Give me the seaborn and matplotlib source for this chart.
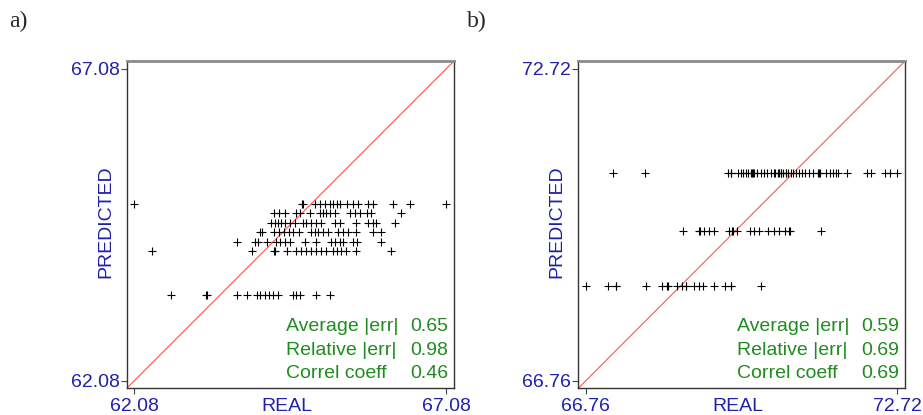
import numpy as np
import pandas as pd
import matplotlib
matplotlib.use("Agg")
import matplotlib.pyplot as plt
import seaborn as sns

# ---- panel a) : predicted levels and the real values found at each level ----
left_pred = [64.91, 64.76, 64.60, 64.46, 64.30, 64.15, 63.46]
left_real = [
    [62.08, 64.77, 64.78, 64.97, 65.05, 65.13, 65.21, 65.26, 65.32, 65.38,
     65.49, 65.58, 65.67, 65.82, 65.90, 66.23, 66.50, 67.08],
    [64.31, 64.39, 64.49, 64.67, 64.73, 64.89, 65.06, 65.11, 65.15, 65.21,
     65.30, 65.54, 65.61, 65.69, 65.80, 65.87, 66.35],
    [64.27, 64.33, 64.38, 64.43, 64.49, 64.57, 64.65, 64.78, 64.83, 64.91,
     64.99, 65.07, 65.29, 65.37, 65.63, 65.82, 65.90, 65.96, 66.26],
    [64.10, 64.12, 64.31, 64.39, 64.47, 64.55, 64.63, 64.72, 64.91, 64.97,
     65.02, 65.10, 65.18, 65.35, 65.42, 65.50, 65.63, 65.90, 66.03],
    [63.72, 64.01, 64.06, 64.20, 64.35, 64.41, 64.49, 64.57, 64.81, 64.99,
     65.23, 65.29, 65.37, 65.43, 65.58, 65.64, 66.04],
    [62.37, 63.96, 64.32, 64.34, 64.53, 64.67, 64.75, 64.83, 64.91, 64.99,
     65.07, 65.15, 65.26, 65.32, 65.39, 65.47, 65.63, 66.20],
    [62.67, 63.23, 63.25, 63.72, 63.89, 64.04, 64.10, 64.17, 64.24, 64.30,
     64.38, 64.62, 64.67, 64.73, 64.99, 65.21],
]
left_range = (62.08, 67.08)
left_stats = [0.65, 0.98, 0.46]

# ---- panel b) ----
right_pred = [70.73, 69.61, 68.56]
right_real = [
    [67.28, 67.89, 69.47, 69.53, 69.54, 69.68, 69.72, 69.77, 69.82, 69.87,
     69.92, 69.93, 69.96, 69.97, 70.04, 70.11, 70.17, 70.23, 70.30, 70.36,
     70.37, 70.44, 70.45, 70.49, 70.50, 70.53, 70.58, 70.59, 70.63, 70.68,
     70.72, 70.78, 70.83, 70.89, 70.95, 71.03, 71.11, 71.21, 71.22, 71.23,
     71.35, 71.43, 71.49, 71.54, 71.59, 71.76, 72.14, 72.21, 72.48, 72.57,
     72.72],
    [68.61, 68.93, 68.94, 69.02, 69.12, 69.21, 69.50, 69.56, 69.57, 69.66,
     69.90, 69.98, 70.07, 70.25, 70.36, 70.46, 70.57, 70.65, 70.66, 71.25],
    [66.76, 67.19, 67.33, 67.34, 67.91, 68.22, 68.32, 68.33, 68.51, 68.60,
     68.67, 68.68, 68.83, 68.93, 69.00, 69.21, 69.42, 69.53, 69.54, 70.11],
]
right_range = (66.76, 72.72)
right_stats = [0.59, 0.69, 0.69]

stat_names = ["Average |err|", "Relative |err|", "Correl coeff"]

BLUE = "#2020a8"
GREEN = "#1e8c1e"
FONT = ["Liberation Sans", "DejaVu Sans"]

sns.set_theme(style="white")
plt.rcParams["font.family"] = FONT
plt.rcParams["font.size"] = 14


def to_frame(pred, real):
    rows = []
    for p, xs in zip(pred, real):
        for x in xs:
            rows.append({"REAL": x, "PREDICTED": p})
    return pd.DataFrame(rows)


def draw_panel(ax, df, rng, stats):
    lo, hi = rng
    pad = 0.0245 * (hi - lo)
    ax.set_xlim(lo - pad, hi + pad)
    ax.set_ylim(lo - pad, hi + pad)
    # y = x reference line
    ax.axline((lo, lo), slope=1, color="#ff5555", lw=0.8, zorder=1)
    sns.scatterplot(data=df, x="REAL", y="PREDICTED", ax=ax, marker="+",
                    color="black", s=30, linewidth=0.8, zorder=3)

    ax.set_xticks([lo, hi])
    ax.set_yticks([lo, hi])
    ax.set_xticklabels([f"{lo:.2f}", f"{hi:.2f}"], color=BLUE, fontsize=14)
    ax.set_yticklabels([f"{lo:.2f}", f"{hi:.2f}"], color=BLUE, fontsize=14)
    ax.tick_params(axis="both", which="major", direction="out", length=4,
                   width=0.8, color="#444444", pad=1)
    ax.tick_params(axis="x", pad=3)
    ax.tick_params(bottom=True, left=True)

    ax.set_xlabel("REAL", color=BLUE, fontsize=14)
    ax.set_ylabel("PREDICTED", color=BLUE, fontsize=14)
    ax.xaxis.set_label_coords(0.49, -0.030)
    ax.yaxis.set_label_coords(-0.038, 0.51)

    for side in ["left", "bottom", "right"]:
        ax.spines[side].set_color("#333333")
        ax.spines[side].set_linewidth(1.0)
    ax.spines["top"].set_color("#8a8a8a")
    ax.spines["top"].set_linewidth(2.0)

    ys = [0.190, 0.117, 0.044]
    for name, val, y in zip(stat_names, stats, ys):
        ax.text(0.487, y, name, transform=ax.transAxes, color=GREEN,
                fontsize=14, ha="left", va="center")
        ax.text(0.983, y, f"{val:.2f}", transform=ax.transAxes, color=GREEN,
                fontsize=14, ha="right", va="center")


fig = plt.figure(figsize=(9.23, 4.15), dpi=100)
ax1 = fig.add_axes([0.1373, 0.0643, 0.3546, 0.7887])
ax2 = fig.add_axes([0.6265, 0.0643, 0.3540, 0.7887])

draw_panel(ax1, to_frame(left_pred, left_real), left_range, left_stats)
draw_panel(ax2, to_frame(right_pred, right_real), right_range, right_stats)

fig.text(0.010, 0.948, "a)", family=["Liberation Serif", "DejaVu Serif"],
         fontsize=17, ha="left", va="center")
fig.text(0.506, 0.948, "b)", family=["Liberation Serif", "DejaVu Serif"],
         fontsize=17, ha="left", va="center")

fig.savefig("out.png", dpi=100, facecolor="white")
